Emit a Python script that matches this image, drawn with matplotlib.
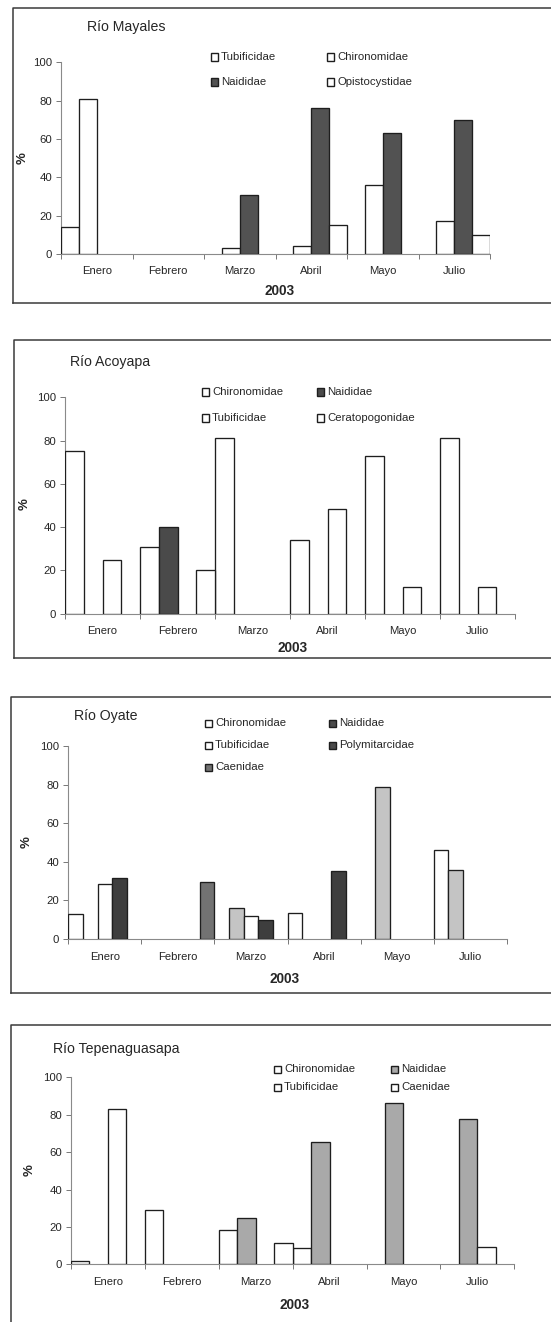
import numpy as np
import matplotlib
matplotlib.use('Agg')
import matplotlib.pyplot as plt
from matplotlib.patches import Rectangle
from matplotlib.lines import Line2D

plt.rcParams['font.family'] = ['Liberation Sans', 'DejaVu Sans']

nan = np.nan
months = ['Enero', 'Febrero', 'Marzo', 'Abril', 'Mayo', 'Julio']

# Río Mayales
mayales_names = ['Tubificidae', 'Chironomidae', 'Naididae', 'Opistocystidae']
mayales_tub = [14, nan, nan, nan, nan, nan]
mayales_chi = [81, nan, 3, 4, 36, 17]
mayales_nai = [nan, nan, 31, 76, 63, 70]
mayales_opi = [nan, nan, nan, 15, nan, 10]

# Río Acoyapa
acoyapa_names = ['Chironomidae', 'Naididae', 'Tubificidae', 'Ceratopogonidae']
acoyapa_chi = [75, 31, 81, 34, 73, 81]
acoyapa_nai = [nan, 40, nan, nan, nan, nan]
acoyapa_tub = [25, nan, nan, 48.5, 12.5, 12.5]
acoyapa_cer = [nan, 20, nan, nan, nan, nan]

# Río Oyate
oyate_names = ['Chironomidae', 'Naididae', 'Tubificidae', 'Polymitarcidae', 'Caenidae']
oyate_chi = [13, nan, nan, 13.5, nan, 46]
oyate_nai = [nan, nan, 16, nan, 79, 35.5]
oyate_tub = [28.5, nan, 12, nan, nan, nan]
oyate_pol = [31.5, nan, 10, 35, nan, nan]
oyate_cae = [nan, 29.5, nan, nan, nan, nan]

# Río Tepenaguasapa
tepe_names = ['Chironomidae', 'Naididae', 'Tubificidae', 'Caenidae']
tepe_chi = [2, 29, 18.5, 8.5, nan, nan]
tepe_nai = [nan, nan, 25, 65.5, 86.5, 77.5]
tepe_tub = [83, nan, nan, nan, nan, 9]
tepe_cae = [nan, nan, 11.5, nan, nan, nan]

W, H = 551, 1322
fig = plt.figure(figsize=(W / 100, H / 100), dpi=100)
fig.patch.set_facecolor('white')

TXT = '#262626'
EDGE = '#1e1e1e'


def fx(x):
    return x / W


def fy(y):
    return 1 - y / H


def panel(title, series, colors, legend_colors, box, axbox, title_xy,
          pct_xy, year_xy, leg_x, leg_y, leg_dx, bottom_open=False):
    # frame around the panel (runs off the right edge like the scan)
    x0, y0, y1 = box
    fr = [Line2D([fx(W + 5), fx(x0), fx(x0)], [fy(y0), fy(y0), fy(y1)],
                 transform=fig.transFigure, color='#3a3a3a', lw=1.1)]
    if not bottom_open:
        fr.append(Line2D([fx(x0), fx(W + 5)], [fy(y1), fy(y1)],
                         transform=fig.transFigure, color='#3a3a3a', lw=1.1))
    for ln in fr:
        fig.add_artist(ln)

    l, r, b, t = axbox
    ax = fig.add_axes([fx(l), fy(b), fx(r) - fx(l), fy(t) - fy(b)])
    n = len(series)
    x = np.arange(len(months))
    for i, (vals, c) in enumerate(zip(series, colors)):
        ax.bar(x - 0.5 + (i + 0.5) / n, vals, width=1 / n, color=c,
               edgecolor=EDGE, linewidth=0.95, zorder=3)
    ax.set_xlim(-0.5, len(months) - 0.5)
    ax.set_ylim(0, 100)
    ax.set_yticks(range(0, 101, 20))
    ax.set_xticks(x)
    ax.set_xticklabels(months)
    ax.set_xticks(np.arange(len(months) + 1) - 0.5, minor=True)
    ax.tick_params(axis='x', which='major', length=0, pad=9,
                   labelsize=8.1, labelcolor=TXT)
    ax.tick_params(axis='x', which='minor', length=3.5, width=0.7,
                   color='#777777', direction='out')
    ax.tick_params(axis='y', length=3.5, width=0.7, color='#777777',
                   pad=3, labelsize=8.2, labelcolor=TXT)
    for s in ['top', 'right']:
        ax.spines[s].set_visible(False)
    for s in ['left', 'bottom']:
        ax.spines[s].set_color('#8a8a8a')
        ax.spines[s].set_linewidth(0.8)

    fig.text(fx(title_xy[0]), fy(title_xy[1]), title, fontsize=10.2,
             color=TXT, ha='left', va='center')
    fig.text(fx(pct_xy[0]), fy(pct_xy[1]), '%', fontsize=9.5, color=TXT,
             fontweight='bold', rotation=90, ha='center', va='center')
    fig.text(fx(year_xy[0]), fy(year_xy[1]), '2003', fontsize=9.8,
             color=TXT, fontweight='bold', ha='center', va='center')

    # legend, two columns, filled row by row
    for k, (name, c) in enumerate(zip(names_of[title], legend_colors)):
        row, col = divmod(k, 2)
        sx = leg_x + col * leg_dx
        sy = leg_y[row]
        fig.add_artist(Rectangle((fx(sx), fy(sy + 3.5)), 7 / W, 7 / H,
                                 transform=fig.transFigure, facecolor=c,
                                 edgecolor=EDGE, linewidth=1.0))
        fig.text(fx(sx + 10), fy(sy), name, fontsize=8.2, color=TXT,
                 ha='left', va='center')
    return ax


names_of = {
    'Río Mayales': mayales_names,
    'Río Acoyapa': acoyapa_names,
    'Río Oyate': oyate_names,
    'Río Tepenaguasapa': tepe_names,
}

panel('Río Mayales',
      [mayales_tub, mayales_chi, mayales_nai, mayales_opi],
      ['white', 'white', '#525252', 'white'],
      ['white', 'white', '#525252', 'white'],
      box=(13, 8, 303), axbox=(61, 490, 254, 62.3),
      title_xy=(87, 27), pct_xy=(23, 158), year_xy=(280, 291),
      leg_x=211, leg_y=[57, 82], leg_dx=116)

panel('Río Acoyapa',
      [acoyapa_chi, acoyapa_nai, acoyapa_tub, acoyapa_cer],
      ['white', '#4a4a4a', 'white', 'white'],
      ['white', '#4a4a4a', 'white', 'white'],
      box=(14, 340, 658), axbox=(65, 515, 613.7, 397.3),
      title_xy=(70, 362), pct_xy=(25, 504), year_xy=(293, 648),
      leg_x=202, leg_y=[392, 418], leg_dx=115)

panel('Río Oyate',
      [oyate_chi, oyate_nai, oyate_tub, oyate_pol, oyate_cae],
      ['white', '#c4c4c4', 'white', '#3e3e3e', '#727272'],
      ['white', '#4a4a4a', 'white', '#4a4a4a', '#727272'],
      box=(11, 697, 993), axbox=(68.3, 506.7, 939, 746),
      title_xy=(74, 716), pct_xy=(27, 842), year_xy=(285, 979),
      leg_x=205, leg_y=[723, 745, 767], leg_dx=124)

panel('Río Tepenaguasapa',
      [tepe_chi, tepe_nai, tepe_tub, tepe_cae],
      ['white', '#a9a9a9', 'white', 'white'],
      ['white', '#a9a9a9', 'white', 'white'],
      box=(11, 1025, 1330), axbox=(71, 514.3, 1264.3, 1077.3),
      title_xy=(53, 1049), pct_xy=(30, 1170), year_xy=(295, 1305),
      leg_x=274, leg_y=[1069, 1087], leg_dx=117, bottom_open=True)

fig.savefig('out.png', dpi=100, facecolor='white')
